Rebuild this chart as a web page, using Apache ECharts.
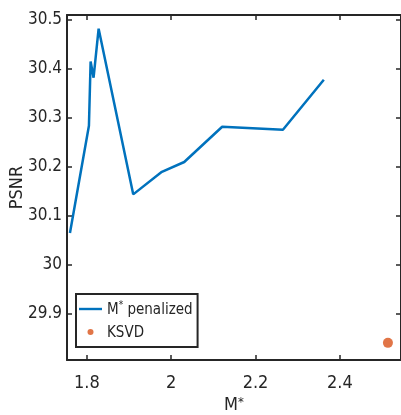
<!DOCTYPE html>
<html><head><meta charset="utf-8">
<script src="https://cdn.jsdelivr.net/npm/echarts@6/dist/echarts.min.js"></script>
<style>html,body{margin:0;padding:0;background:#fff}#c{width:401px;height:415px}</style>
</head><body><div id="c"></div>
<script>
const mX = [1.760, 1.805, 1.809, 1.816, 1.828, 1.910, 1.978, 2.031, 2.121, 2.265, 2.362];
const mY = [30.065, 30.284, 30.415, 30.382, 30.482, 30.144, 30.190, 30.210, 30.282, 30.276, 30.378];
const ksvdX = [2.514];
const ksvdY = [29.841];
const xTicks = [1.8, 2.0, 2.2, 2.4];
const yTicks = [29.9, 30.0, 30.1, 30.2, 30.3, 30.4, 30.5];
const seriesNames = ['M* penalized', 'KSVD'];

const FONT = '"Liberation Sans Narrow","DejaVu Sans Condensed","Liberation Sans",sans-serif';
const AX = '#262626';
const xMin = 1.753, xMax = 2.545, yMin = 29.806, yMax = 30.51;
const fmt = v => String(Number(v.toFixed(1)));

const chart = echarts.init(document.getElementById('c'));
const axisBase = {
  axisLine: {show: true, onZero: false, lineStyle: {color: AX, width: 2}},
  axisTick: {show: true, inside: true, length: 5, lineStyle: {color: AX, width: 1.5}},
  splitLine: {show: false}
};
chart.setOption({
  animation: false,
  grid: {left: 67, right: 0, top: 15, bottom: 55, containLabel: false, outerBoundsMode: 'none'},
  xAxis: [
    Object.assign({}, axisBase, {
      type: 'value', min: xMin, max: xMax, position: 'bottom',
      axisTick: Object.assign({}, axisBase.axisTick, {customValues: xTicks}),
      axisLabel: {customValues: xTicks, formatter: fmt, color: AX, fontFamily: FONT, fontSize: 18, margin: 14},
      name: '{a|M}{s|*}', nameLocation: 'middle', nameGap: 36, nameMoveOverlap: false,
      nameTextStyle: {rich: {a: {fontFamily: FONT, fontSize: 18, color: AX}, s: {fontFamily: FONT, fontSize: 13, color: AX, verticalAlign: 'top', padding: [0,0,6,0]}}}
    }),
    Object.assign({}, axisBase, {
      type: 'value', min: xMin, max: xMax, position: 'top',
      axisTick: Object.assign({}, axisBase.axisTick, {customValues: xTicks}),
      axisLabel: {show: false}
    })
  ],
  yAxis: [
    Object.assign({}, axisBase, {
      type: 'value', min: yMin, max: yMax, position: 'left',
      axisTick: Object.assign({}, axisBase.axisTick, {customValues: yTicks}),
      axisLabel: {customValues: yTicks, formatter: fmt, color: AX, fontFamily: FONT, fontSize: 17, margin: 5},
      name: 'PSNR', nameLocation: 'middle', nameGap: 41, nameRotate: 90, nameMoveOverlap: false,
      nameTextStyle: {fontFamily: FONT, fontSize: 18, color: AX}
    }),
    Object.assign({}, axisBase, {
      type: 'value', min: yMin, max: yMax, position: 'right',
      axisTick: Object.assign({}, axisBase.axisTick, {customValues: yTicks}),
      axisLabel: {show: false}
    })
  ],
  legend: {
    left: 76, top: 294, orient: 'vertical',
    data: [
      {name: seriesNames[0], icon: 'path://M0 0 L24 0 L24 2.5 L0 2.5 Z'},
      {name: seriesNames[1], icon: 'circle'}
    ],
    backgroundColor: '#fff', borderColor: AX, borderWidth: 2, borderRadius: 0,
    padding: [6, 5, 6, 3], itemGap: 8, itemWidth: 23, itemHeight: 6,
    formatter: n => n === 'M* penalized' ? '{a|M}{s|*}{a| penalized}' : '{a|' + n + '}',
    textStyle: {rich: {
      a: {fontFamily: FONT, fontSize: 15, color: AX, padding: [3,0,0,0]},
      s: {fontFamily: FONT, fontSize: 10, color: AX, verticalAlign: 'top', padding: [0,0,8,0]}
    }}
  },
  series: [
    {
      name: seriesNames[0], type: 'line', data: mX.map((x, i) => [x, mY[i]]),
      symbol: 'none', lineStyle: {color: '#0072BD', width: 2.5}, itemStyle: {color: '#0072BD'}, z: 3
    },
    {
      name: seriesNames[1], type: 'scatter', data: ksvdX.map((x, i) => [x, ksvdY[i]]),
      symbol: 'circle', symbolSize: 10, itemStyle: {color: '#D95319'}, z: 3
    }
  ]
});
</script></body></html>
